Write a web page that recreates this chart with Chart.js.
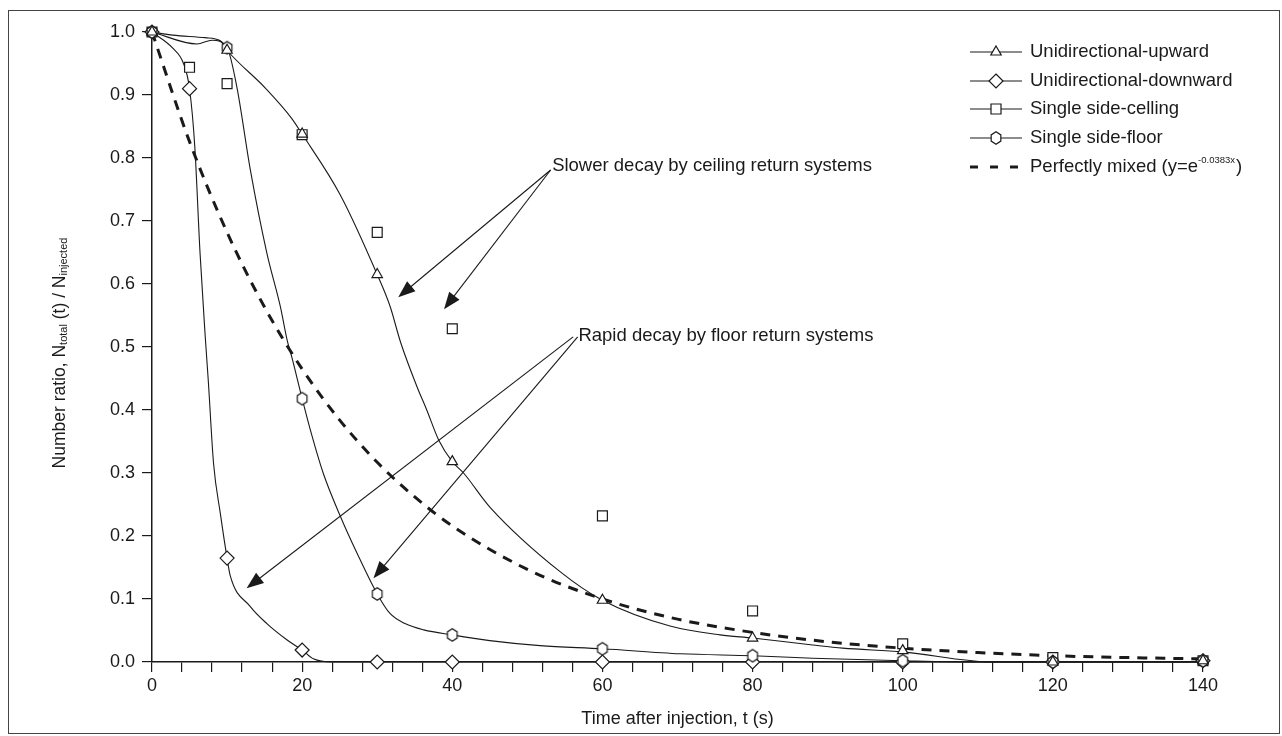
<!DOCTYPE html>
<html>
<head>
<meta charset="utf-8">
<script src="https://cdn.jsdelivr.net/npm/chart.js@4/dist/chart.umd.min.js"></script>
<style>
  html, body { margin: 0; padding: 0; background: #fff; }
  #wrap { width: 1282px; height: 736px; position: relative; }
</style>
</head>
<body>
<div id="wrap"><canvas id="chart" width="1282" height="736"></canvas></div>
<script>
// marker values (time in s, number ratio)
const upT = [0, 10, 20, 30, 40, 60, 80, 100, 120, 140];
const upN = [1.0, 0.971, 0.838, 0.615, 0.318, 0.098, 0.038, 0.018, 0.0, 0.002];
const downT = [0, 5, 10, 20, 30, 40, 60, 80, 100, 120, 140];
const downN = [1.0, 0.91, 0.165, 0.019, 0.0, 0.0, 0.0, 0.0, 0.0, 0.0, 0.002];
const ceilT = [0, 5, 10, 20, 30, 40, 60, 80, 100, 120, 140];
const ceilN = [1.0, 0.944, 0.918, 0.837, 0.682, 0.529, 0.232, 0.081, 0.029, 0.007, 0.002];
const floorT = [0, 10, 20, 30, 40, 60, 80, 100, 120, 140];
const floorN = [1.0, 0.975, 0.418, 0.108, 0.043, 0.021, 0.010, 0.002, 0.0, 0.002];

// traced curves
const upCurveT = [0, 2.8, 7.1, 9.1, 10, 15.1, 18.6, 20, 25.1, 30, 31.7, 33.1, 35.3, 36.6, 38.2, 40, 41.5, 45, 54.4, 60, 69, 75.7, 80, 88, 92, 100, 112, 120, 140];
const upCurveN = [1.0, 0.995, 0.991, 0.986, 0.971, 0.911, 0.863, 0.838, 0.741, 0.615, 0.565, 0.508, 0.437, 0.400, 0.352, 0.318, 0.300, 0.246, 0.143, 0.098, 0.057, 0.043, 0.038, 0.027, 0.022, 0.016, 0.0, 0.0, 0.0];
const downCurveT = [0, 2.8, 4.2, 5, 5.7, 6.4, 7.1, 7.5, 8.2, 9.1, 10, 10.4, 13.1, 15.3, 18, 20, 21.5, 24, 40, 80, 140];
const downCurveN = [1.0, 0.974, 0.95, 0.91, 0.818, 0.649, 0.515, 0.446, 0.315, 0.236, 0.165, 0.138, 0.088, 0.061, 0.035, 0.019, 0.005, 0.0, 0.0, 0.0, 0.0];
const floorCurveT = [0, 6, 8, 10, 11.3, 13.1, 15.3, 17.1, 18, 18.6, 20, 21.1, 22.8, 25.1, 27.3, 30, 31.7, 33.7, 36.2, 40, 45, 51.7, 60, 70.4, 80, 88, 100, 110, 120, 140];
const floorCurveN = [1.0, 0.981, 0.987, 0.975, 0.913, 0.781, 0.649, 0.564, 0.511, 0.485, 0.418, 0.368, 0.300, 0.231, 0.173, 0.108, 0.077, 0.061, 0.051, 0.043, 0.034, 0.026, 0.021, 0.013, 0.010, 0.006, 0.002, 0.0, 0.0, 0.0];
const mixedT = [0, 5, 10, 15, 20, 25, 30, 35, 40, 50, 60, 70, 80, 90, 100, 110, 120, 130, 140];
const mixedN = [1.0, 0.826, 0.682, 0.563, 0.465, 0.384, 0.317, 0.262, 0.216, 0.147, 0.100, 0.068, 0.047, 0.032, 0.022, 0.015, 0.010, 0.007, 0.005];

const seriesNames = ['Unidirectional-upward', 'Unidirectional-downward', 'Single side-celling', 'Single side-floor'];
const mixedName = 'Perfectly mixed (y=e';
const mixedExp = '-0.0383x';

// annotation arrows: [fromT, fromN, toT, toN]
const slowerText = 'Slower decay by ceiling return systems';
const slowerAt = [53.3, 0.787];
const slowerArrows = [[53.1, 0.781, 32.8, 0.579], [53.1, 0.781, 38.9, 0.560]];
const rapidText = 'Rapid decay by floor return systems';
const rapidAt = [56.8, 0.517];
const rapidArrows = [[56.1, 0.516, 12.6, 0.117], [56.7, 0.516, 29.5, 0.133]];

const FONT = '"Liberation Sans", Arial, sans-serif';
const INK = '#1a1a1a';
const TXT = 18.5;

function pts(t, n) { return t.map((v, i) => ({x: v, y: n[i]})); }

function hexPath(ctx, x, y, r) {
  ctx.beginPath();
  for (let i = 0; i < 6; i++) {
    const a = Math.PI / 2 + i * Math.PI / 3;
    const px = x + r * 0.9 * Math.cos(a), py = y + r * Math.sin(a);
    if (i === 0) ctx.moveTo(px, py); else ctx.lineTo(px, py);
  }
  ctx.closePath();
}

// hexagon marker as an image
const hexImg = document.createElement('canvas');
hexImg.width = 16; hexImg.height = 16;
(function () {
  const c = hexImg.getContext('2d');
  hexPath(c, 8, 8, 6.2);
  c.fillStyle = '#fff'; c.fill();
  c.lineWidth = 1.2; c.strokeStyle = INK; c.stroke();
})();

function markerSet(data, style, radius) {
  return {
    data: data, showLine: false, pointStyle: style, pointRadius: radius,
    pointBackgroundColor: '#fff', pointBorderColor: INK, pointBorderWidth: 1.2
  };
}
function curveSet(data, dash, width) {
  return {
    data: data, showLine: true, borderColor: INK, borderWidth: width, borderDash: dash,
    pointRadius: 0, cubicInterpolationMode: 'monotone', fill: false
  };
}

function drawMarker(ctx, kind, x, y) {
  ctx.save();
  ctx.fillStyle = '#fff'; ctx.strokeStyle = INK; ctx.lineWidth = 1.2;
  ctx.beginPath();
  if (kind === 'triangle') {
    ctx.moveTo(x, y - 6); ctx.lineTo(x + 5.2, y + 3); ctx.lineTo(x - 5.2, y + 3); ctx.closePath();
  } else if (kind === 'diamond') {
    ctx.moveTo(x, y - 7); ctx.lineTo(x + 7, y); ctx.lineTo(x, y + 7); ctx.lineTo(x - 7, y); ctx.closePath();
  } else if (kind === 'square') {
    ctx.rect(x - 5, y - 5, 10, 10);
  } else {
    hexPath(ctx, x, y, 6.2);
  }
  ctx.fill(); ctx.stroke();
  ctx.restore();
}

function arrow(ctx, x0, y0, x1, y1) {
  const ang = Math.atan2(y1 - y0, x1 - x0);
  const L = 17, W = 6.5;
  ctx.beginPath();
  ctx.moveTo(x0, y0);
  ctx.lineTo(x1 - L * Math.cos(ang) * 0.8, y1 - L * Math.sin(ang) * 0.8);
  ctx.stroke();
  ctx.beginPath();
  ctx.moveTo(x1, y1);
  ctx.lineTo(x1 - L * Math.cos(ang) + W * Math.sin(ang), y1 - L * Math.sin(ang) - W * Math.cos(ang));
  ctx.lineTo(x1 - L * Math.cos(ang) - W * Math.sin(ang), y1 - L * Math.sin(ang) + W * Math.cos(ang));
  ctx.closePath();
  ctx.fill();
}

const extras = {
  id: 'extras',
  afterDraw(chart) {
    const ctx = chart.ctx, xs = chart.scales.x, ys = chart.scales.y;
    ctx.save();
    // frame
    ctx.strokeStyle = '#444'; ctx.lineWidth = 1;
    ctx.strokeRect(8.5, 10.5, 1271, 723);

    // y axis title with subscripts
    ctx.save();
    ctx.translate(60, (ys.top + ys.bottom) / 2 + 6);
    ctx.rotate(-Math.PI / 2);
    ctx.fillStyle = INK;
    ctx.textBaseline = 'middle';
    const parts = [['Number ratio, N', 17.5, 0], ['total', 11, 4], [' (t) / N', 17.5, 0], ['injected', 11, 4]];
    let total = 0;
    parts.forEach(p => { ctx.font = p[1] + 'px ' + FONT; total += ctx.measureText(p[0]).width; });
    let cx = -total / 2;
    parts.forEach(p => {
      ctx.font = p[1] + 'px ' + FONT;
      ctx.fillText(p[0], cx, p[2]);
      cx += ctx.measureText(p[0]).width;
    });
    ctx.restore();

    // annotations
    ctx.fillStyle = INK; ctx.strokeStyle = INK; ctx.lineWidth = 1.1;
    ctx.font = TXT + 'px ' + FONT;
    ctx.textBaseline = 'middle';
    ctx.fillText(slowerText, xs.getPixelForValue(slowerAt[0]), ys.getPixelForValue(slowerAt[1]));
    ctx.fillText(rapidText, xs.getPixelForValue(rapidAt[0]), ys.getPixelForValue(rapidAt[1]));
    slowerArrows.concat(rapidArrows).forEach(a => {
      arrow(ctx, xs.getPixelForValue(a[0]), ys.getPixelForValue(a[1]), xs.getPixelForValue(a[2]), ys.getPixelForValue(a[3]));
    });

    // legend
    const kinds = ['triangle', 'diamond', 'square', 'hex'];
    const lx0 = 970, lx1 = 1022, tx = 1030;
    const rowY = [52, 81, 109, 138, 167];
    kinds.forEach((k, i) => {
      ctx.strokeStyle = INK; ctx.lineWidth = 1.1;
      ctx.beginPath(); ctx.moveTo(lx0, rowY[i]); ctx.lineTo(lx1, rowY[i]); ctx.stroke();
      drawMarker(ctx, k, 996, rowY[i]);
      ctx.fillStyle = INK; ctx.font = TXT + 'px ' + FONT;
      ctx.fillText(seriesNames[i], tx, rowY[i]);
    });
    ctx.lineWidth = 3; ctx.setLineDash([8, 12]);
    ctx.beginPath(); ctx.moveTo(lx0, rowY[4]); ctx.lineTo(lx1 + 2, rowY[4]); ctx.stroke();
    ctx.setLineDash([]);
    ctx.font = TXT + 'px ' + FONT;
    ctx.fillText(mixedName, tx, rowY[4]);
    let w = ctx.measureText(mixedName).width;
    ctx.font = '9.5px ' + FONT;
    ctx.fillText(mixedExp, tx + w, rowY[4] - 7);
    w += ctx.measureText(mixedExp).width;
    ctx.font = TXT + 'px ' + FONT;
    ctx.fillText(')', tx + w + 1, rowY[4]);
    ctx.restore();
  }
};

new Chart(document.getElementById('chart'), {
  type: 'scatter',
  data: {
    datasets: [
      markerSet(pts(upT, upN), 'triangle', 6),
      markerSet(pts(floorT, floorN), hexImg, 6),
      markerSet(pts(downT, downN), 'rectRot', 7),
      markerSet(pts(ceilT, ceilN), 'rect', 7),
      curveSet(pts(mixedT, mixedN), [10, 8], 3),
      curveSet(pts(upCurveT, upCurveN), [], 1.1),
      curveSet(pts(downCurveT, downCurveN), [], 1.1),
      curveSet(pts(floorCurveT, floorCurveN), [], 1.1)
    ]
  },
  options: {
    responsive: false,
    animation: false,
    clip: false,
    layout: { padding: { left: 0, right: 79, top: 32, bottom: 0 } },
    plugins: { legend: { display: false }, tooltip: { enabled: false } },
    scales: {
      x: {
        type: 'linear', min: 0, max: 140,
        afterFit: s => { s.height = 74; },
        ticks: {
          stepSize: 4, autoSkip: false, maxRotation: 0, color: INK, padding: 3,
          font: { size: 18, family: FONT },
          callback: v => (v % 20 === 0 ? String(v) : '')
        },
        grid: { drawOnChartArea: false, drawTicks: true, tickLength: 10, color: INK, lineWidth: 1.2 },
        border: { color: INK, width: 1.5 },
        title: { display: true, text: 'Time after injection, t (s)', color: INK, font: { size: 18, family: FONT }, padding: { top: 2, bottom: 6 } }
      },
      y: {
        type: 'linear', min: 0, max: 1,
        afterFit: s => { s.width = 152; },
        ticks: {
          stepSize: 0.1, color: INK, padding: 7,
          font: { size: 18, family: FONT },
          callback: v => v.toFixed(1)
        },
        grid: { drawOnChartArea: false, drawTicks: true, tickLength: 10, color: INK, lineWidth: 1.2 },
        border: { color: INK, width: 1.5 }
      }
    }
  },
  plugins: [extras]
});
</script>
</body>
</html>
